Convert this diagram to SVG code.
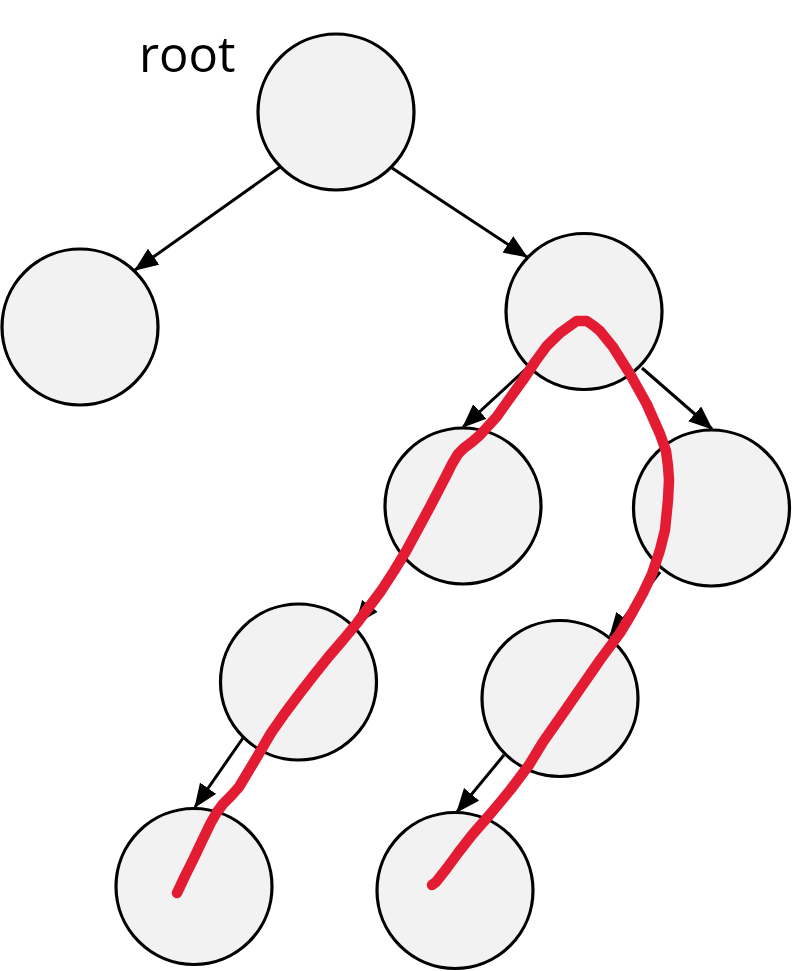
<svg xmlns="http://www.w3.org/2000/svg" width="793" height="971" viewBox="0 0 793 971">
<style>
.node{fill:#f2f2f2;stroke:#000;stroke-width:3.2}
.edge{stroke:#000;stroke-width:3;fill:none;marker-end:url(#arr)}
.path{stroke:#e31b33;stroke-width:10.5;fill:none;stroke-linecap:round;stroke-linejoin:round}
.lbl{font-family:"Open Sans","Liberation Sans",sans-serif;font-size:49px;fill:#000}
</style>
<defs>
<marker id="arr" markerUnits="userSpaceOnUse" markerWidth="24" markerHeight="20" viewBox="0 0 22 18" refX="21" refY="9" orient="auto">
<path d="M0,0 L22,9 L0,18 Z" fill="#000"/>
</marker>
</defs>
<rect width="793" height="971" fill="#fff"/>
<g id="connectors">
<line class="edge" x1="280" y1="167" x2="135" y2="270"/>
<line class="edge" x1="392" y1="168" x2="527" y2="257"/>
<line class="edge" x1="527" y1="368" x2="463" y2="427"/>
<line class="edge" x1="642" y1="368" x2="712" y2="429"/>
<line class="edge" x1="405" y1="560" x2="356" y2="624"/>
<line class="edge" x1="660" y1="572" x2="610" y2="636"/>
<line class="edge" x1="243" y1="738" x2="195" y2="807"/>
<line class="edge" x1="504" y1="755" x2="457" y2="812"/>
</g>
<g id="n-root"><circle class="node" cx="336" cy="112" r="78"/></g>
<g id="n-l"><circle class="node" cx="80" cy="327" r="78"/></g>
<g id="n-r"><circle class="node" cx="584" cy="311.5" r="78"/></g>
<g id="n-rl"><circle class="node" cx="463" cy="506" r="78"/></g>
<g id="n-rr"><circle class="node" cx="711.5" cy="508" r="78"/></g>
<g id="n-rll"><circle class="node" cx="298.5" cy="682" r="78"/></g>
<g id="n-rrl"><circle class="node" cx="560" cy="698.5" r="78"/></g>
<g id="n-rlll"><circle class="node" cx="194" cy="886.5" r="78"/></g>
<g id="n-rrll"><circle class="node" cx="455" cy="890.5" r="78"/></g>
<g id="label-root"><text class="lbl" x="139" y="72">root</text></g>
<g id="trace">
<path class="path" d="M177,893 L185,876 L193,860 L202,841 L210.7,823 L217,812 L223,804 L231,796 L239,787 L248,772 L257,757 L271,733 L285,713 L300,693 L314,675 L328.6,656.7 L343,640 L357,623 L369,607 L381,591 L394,571 L406.7,550 L418,529 L430,506.7 L446,476 L452,464 L458,454 L464,448 L472,442 L480,435 L496.7,416.7 L510,398 L523,380 L535,362 L546.7,346 L560,333 L576.7,321 L586.7,321 L594,326 L600,331 L613,347 L630,374 L646.7,404 L660,434 L666,451 L668,466 L669,480 L668,500 L665,530 L660,550 L652,574 L643,593 L632,613 L620,633 L600,660 L582,686 L564,712 L543,742 L529,765 L511,789 L497,806 L486,819 L472,835 L458,853 L447,868 L436,882 L432,885"/>
</g>
</svg>
